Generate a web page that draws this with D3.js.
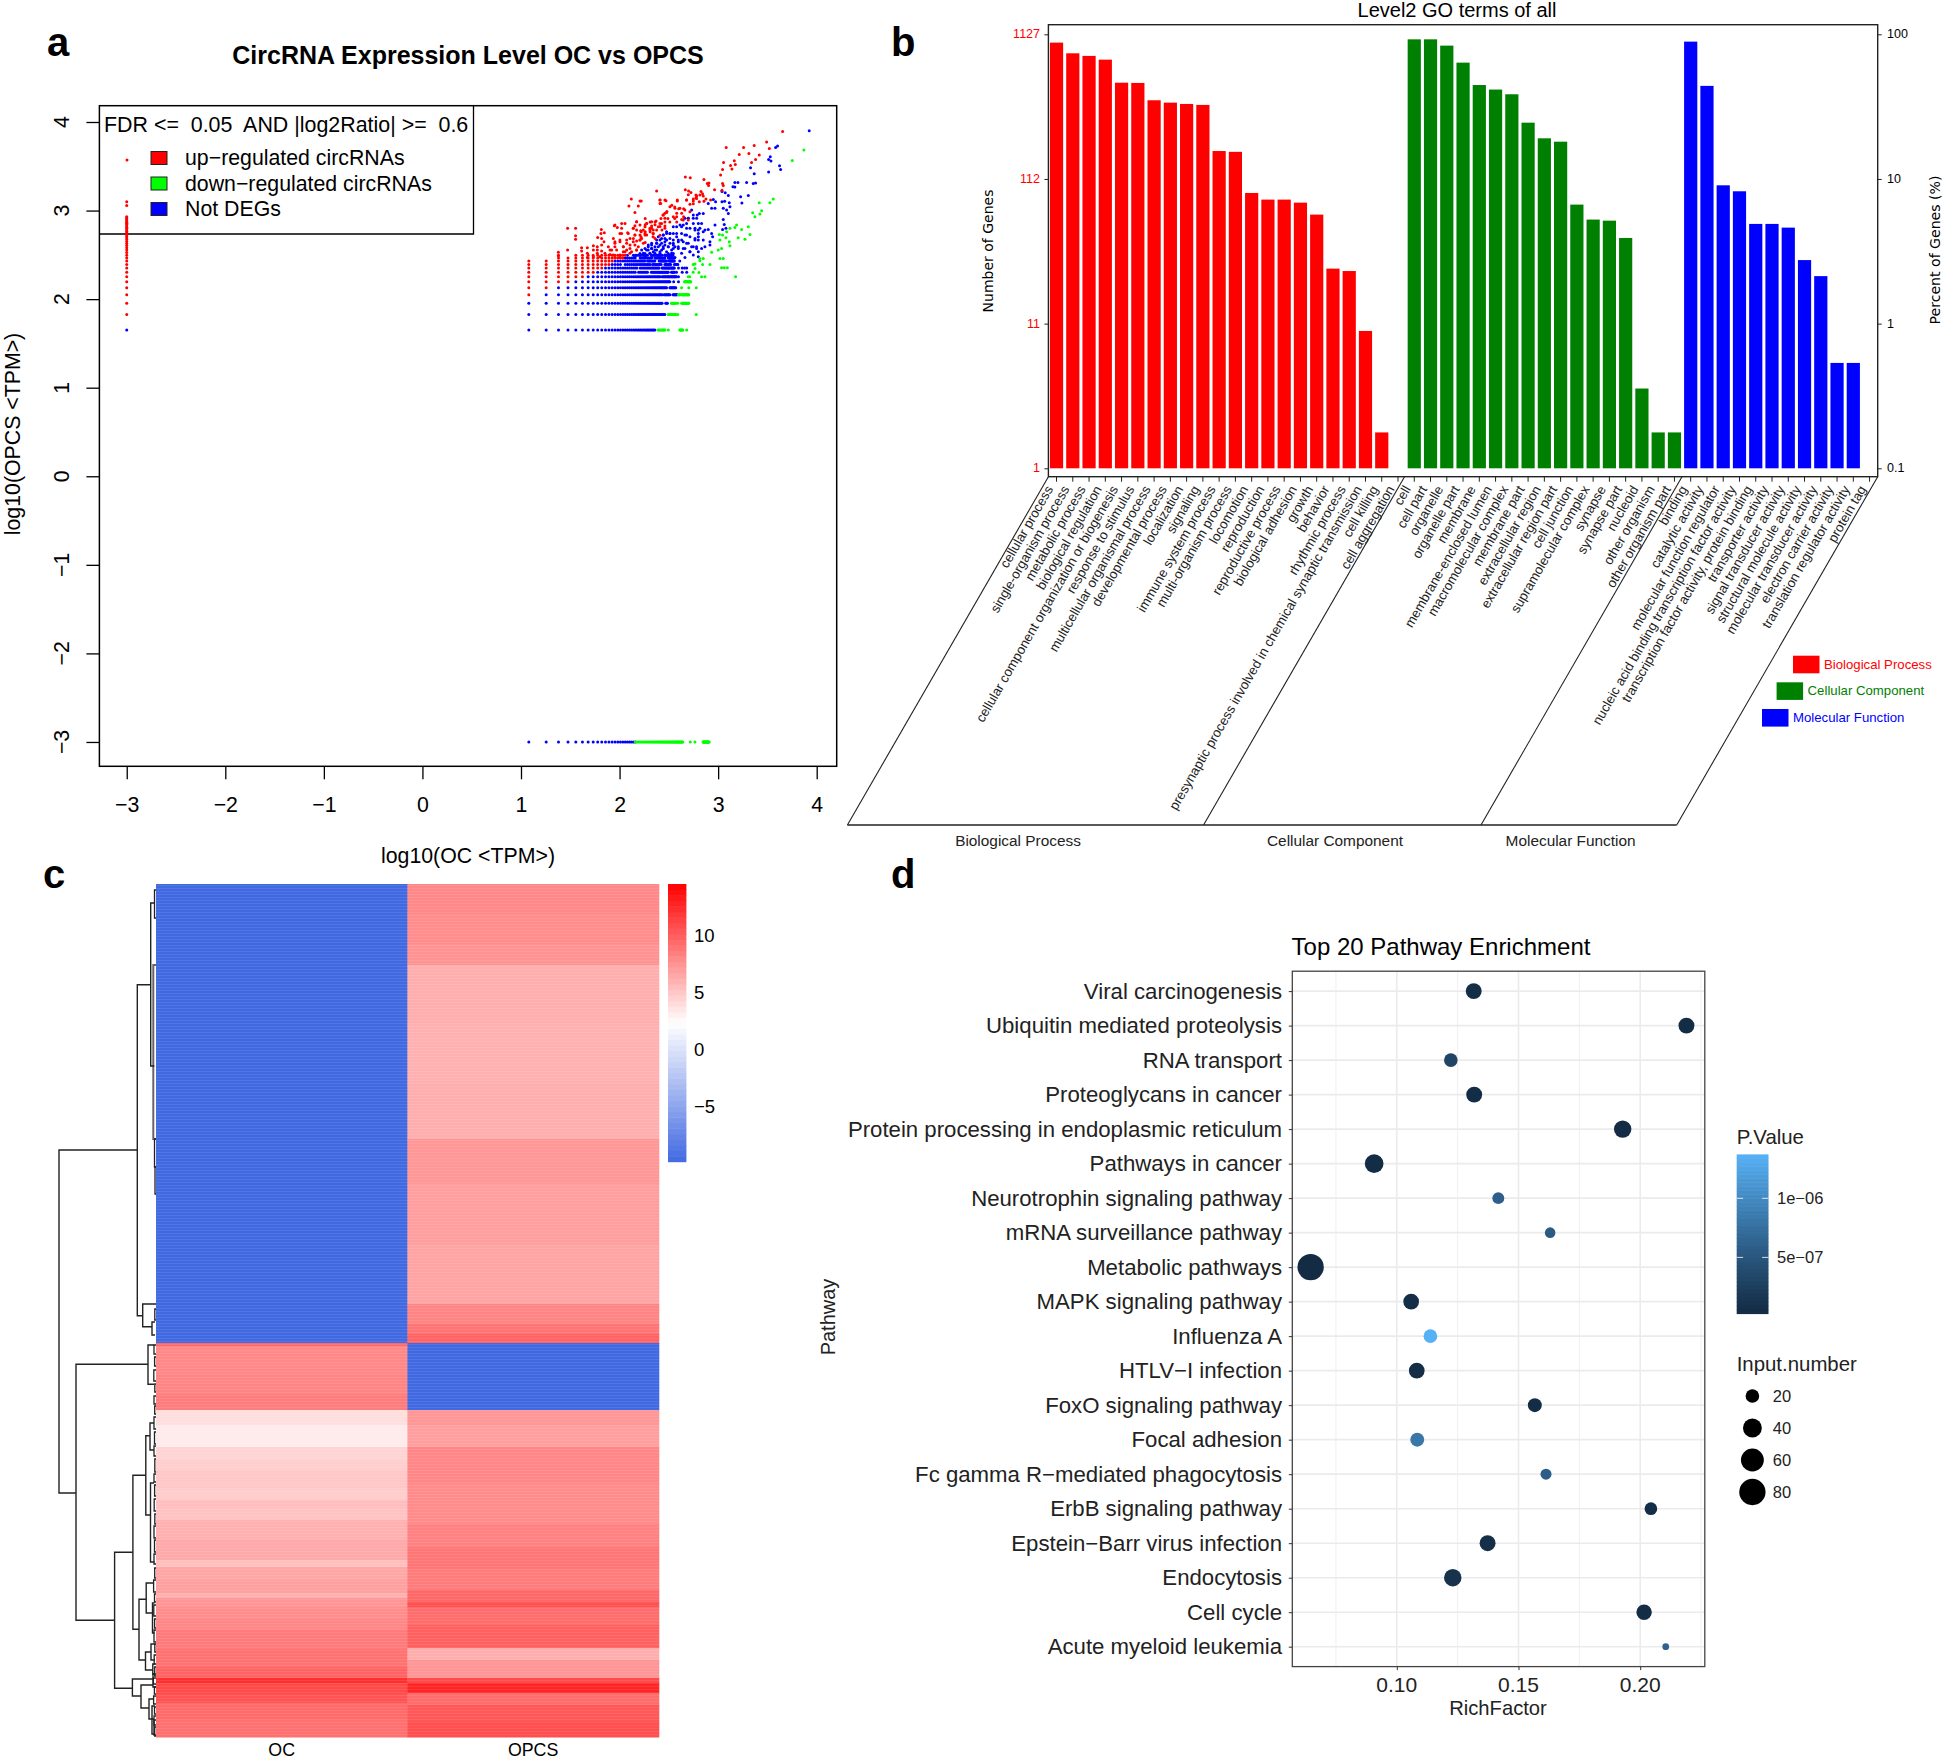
<!DOCTYPE html>
<html><head><meta charset="utf-8">
<script src="https://cdn.jsdelivr.net/npm/d3@7"></script>
<style>html,body{margin:0;padding:0;background:#fff}svg{display:block}text{font-family:"Liberation Sans",Arial,sans-serif;white-space:pre}</style>
</head><body><div id="chart"></div>
<script>
// ---------- panel a: scatter (read counts on the discrete TPM grid, runs are [from,to]) ----------
const ocTpmPerCount = 6, opcsTpmPerCount = 22.4;
const upRows = [
 [5,[[2,2]]],[6,[[2,3]]],[7,[[2,5]]],[8,[[2,7]]],[9,[[2,9]]],[10,[[2,11]]],[11,[[2,13]]],[12,[[2,14]]],
 [13,[[4,18]]],[14,[[4,4],[6,19]]]];
const notRows = [
 [2,[[2,38]]],[3,[[2,48]]],[4,[[2,45],[49,51]]],[5,[[3,45],[47,54],[58,64]]],[6,[[4,50],[54,62]]],
 [7,[[6,54],[59,59],[66,66]]],[8,[[8,43],[45,63],[66,66]]],[9,[[10,24],[26,32],[35,52],[56,60],[63,63],[72,72],[80,80]]],
 [10,[[12,25],[27,42],[45,60],[66,66],[72,72],[76,76],[80,80]]],[11,[[14,17],[19,34],[36,44],[48,55],[60,65]]],
 [12,[[15,30],[32,38],[42,50],[53,60],[68,68]]],[13,[[19,24],[27,35],[38,48],[52,60]]],[14,[[20,20],[23,32],[35,45],[48,58]]]];
const downRows = [
 [2,[[41,48],[52,52],[68,73],[80,80]]],[3,[[52,62],[65,65],[100,100]]],[4,[[56,62],[65,65],[71,84]]],
 [5,[[66,69],[71,84]]],[6,[[71,71],[84,84],[100,100]]],[7,[[76,88]]],[8,[[86,86]]],[9,[[93,93]]],[11,[[93,93]]]];
const upScatter = [[3.654,3.894],[3.492,3.773],[3.366,3.736],[3.519,3.702],[3.082,3.713],[3.258,3.713],[3.312,3.645],[3.214,3.634],[3.417,3.627],[3.38,3.578],[3.339,3.544],[3.164,3.563],[3.055,3.544],[3.126,3.51],[3.174,3.521],[3.045,3.465],[3.14,3.469],[3.025,3.401],[2.856,3.352],[2.667,3.378],[2.717,3.371],[2.89,3.307],[2.907,3.311],[2.903,3.284],[3.045,3.307],[3.052,3.284],[2.964,3.235],[3.039,3.228],[2.667,3.235],[2.7,3.22],[2.724,3.205],[2.775,3.175],[2.826,3.216],[2.842,3.19],[2.815,3.175],[2.849,3.164],[2.697,3.179],[2.775,3.141],[2.748,3.13],[2.748,3.107],[2.68,3.119],[2.876,3.13],[2.809,3.1],[2.856,3.104],[2.924,3.119],[2.714,3.07],[2.748,3.077],
 [2.46,2.97],[2.48,2.99],[2.44,2.95],[2.42,2.91],[2.53,3.06],[2.56,3.04],[2.6,3.02],[2.65,3.02],[2.58,2.97],[2.63,2.97],[2.545,2.93],[2.49,2.91],[2.56,2.91],[2.65,2.93],[2.63,2.9],[2.58,2.87],[2.51,2.87],[2.46,2.87],[2.41,2.855],[2.36,2.87],[2.31,2.87],[2.26,2.91],[2.275,2.855],[2.26,2.84],[2.36,2.84],[2.41,2.82],[2.46,2.825],[2.325,2.8],[2.376,2.78],[2.43,2.78],[2.26,2.76],[2.31,2.76],[2.34,2.74],[2.22,2.76],[2.275,2.725],[2.34,2.705],[2.217,2.705],[2.26,2.64],[2.36,2.686],[2.41,2.72],[2.46,2.8],[2.325,2.825],[2.207,2.667],[2.376,3.22],[2.207,3.107],[2.41,3.12],[2.41,3.08],[2.46,3.12],[2.585,3.107],
 [2.119,3.13],[2.22,3.107],[2.095,3.051],[2.19,3.051],[2.156,2.979],[1.473,2.799],[1.554,2.799],[1.815,2.787],[1.811,2.742],[1.845,2.75],[1.554,2.716],[1.554,2.675],[1.778,2.697],[1.818,2.686],[1.842,2.648],[1.947,2.829],[1.977,2.81],[2.021,2.855],[2.021,2.799],[2.173,2.874],[2.156,2.829],[2.004,2.742],[2.082,2.75],[2.14,2.799],[2.173,2.78],[2.214,2.772],[2.258,2.818],[2.275,2.855],[2.325,2.874],[2.37,2.882],[2.207,2.724],[2.156,2.724],[2.106,2.686],[2.14,2.686],[2.173,2.656],[2.224,2.686],[2.258,2.742],[2.308,2.78],[2.342,2.742],[2.393,2.818],[2.427,2.855],[2.46,2.912],[2.477,2.979],[2.444,2.949],[2.41,3.119],[2.417,3.081],[2.471,3.111],[2.586,3.119],[2.68,3.119],[2.782,3.137],[2.782,3.164],[2.511,3.043],[2.562,3.025],[2.613,3.025],[2.663,3.006],[2.714,2.987],[2.579,2.93],[2.646,2.893],[2.697,2.893],[1.937,2.686],[1.953,2.648],[2.004,2.648],[2.072,2.63],[2.106,2.611],[2.156,2.611],[2.19,2.592],[2.038,2.592],[1.953,2.592],[1.886,2.592],[1.903,2.554],[1.818,2.611],[1.774,2.592],[1.734,2.603],[1.673,2.581],[1.774,2.554],[1.615,2.581],[1.473,2.554],[1.379,2.528],[1.379,2.49],[1.734,2.554],[1.774,2.517],[1.673,2.517],[1.615,2.543],[1.818,2.543],[1.852,2.517],[1.903,2.505],[1.953,2.471],[2.004,2.471],[2.038,2.535],[2.072,2.554],[2.122,2.535],[2.173,2.554],[1.673,2.471],[1.734,2.479],[1.801,2.479],
 [1.953,2.836],[2.055,2.855],[2.173,2.874],[2.139,2.799],[2.207,2.836],[2.021,2.742],[2.088,2.742],[2.156,2.724],[2.241,2.78],[2.308,2.799],[2.258,2.724],[2.342,2.78],[2.004,2.667],[2.072,2.667],[2.139,2.648],[2.207,2.667],[1.953,2.63],[2.038,2.592],[2.105,2.573],[2.173,2.554],[2.241,2.63],[1.97,2.554],[2.055,2.535],[1.92,2.554],[2.004,2.498],[2.105,2.517],[1.936,2.498]];
const notScatter = [[3.924,3.901],[3.603,3.728],[3.583,3.713],[3.529,3.608],[3.512,3.578],[3.536,3.559],[3.623,3.506],[3.634,3.465],[3.329,3.484],[3.512,3.435],[3.366,3.416],[3.17,3.318],[3.201,3.318],[3.289,3.318],[3.356,3.307],[3.38,3.311],[3.15,3.269],[3.17,3.265],[3.039,3.216],[3.072,3.201],[3.103,3.171],[3.228,3.156],[3.306,3.171],[2.951,3.126],[2.9,3.081],[2.974,3.1],[3.039,3.1],[3.066,3.104],[3.113,3.089],[3.241,3.085],
 [2.697,2.912],[2.748,2.949],[2.782,2.912],[2.748,2.855],[2.799,2.855],[2.832,2.855],[2.849,2.968],[2.934,3.025],[2.968,3.025],[3.052,3.025],[3.086,3.006],[3.12,3.043],[3.103,2.968],[2.968,2.836],[3.052,2.9],[3.062,2.844],[3.045,2.787],[3.079,2.799],[2.815,2.799],[2.849,2.761],[2.765,2.78],[2.799,2.742],[2.866,2.78],[2.9,2.787],[2.934,2.742],[2.944,2.705],[2.917,2.648],[2.849,2.667],[2.799,2.705],[2.832,2.573],[2.799,2.535],[2.748,2.592],[2.714,2.535],[2.765,2.667],[2.68,2.855],[2.646,2.836],[2.613,2.836],[2.663,2.724],[2.63,2.667],[2.68,2.63],[2.646,2.573],[2.596,2.592],[2.545,2.742],[2.511,2.742],[2.477,2.742],[2.579,2.705],[2.545,2.667],[2.511,2.63],[2.562,2.592],[2.528,2.554],[2.545,2.516],[2.444,2.724],[2.46,2.686],[2.41,2.667],[2.376,2.667],[2.427,2.63],[2.393,2.592],[2.444,2.573],[2.359,2.592],[2.325,2.573],[2.291,2.592],[2.258,2.573],[2.41,2.535],[2.342,2.535],[2.308,2.516],[2.258,2.516],[2.224,2.554],[2.207,2.516],[2.494,2.516],[2.596,2.648],[2.782,2.573],[2.866,2.592],[2.917,2.61],[2.477,2.667],[2.376,2.63],[2.325,2.61],[2.359,2.554],[2.291,2.554],[2.46,2.61],[2.494,2.592],[2.545,2.61],
 [2.731,3.006],[2.697,2.912],[2.663,2.912],[2.748,2.912],[2.788,2.949],[2.809,2.968],[2.629,2.817],[2.579,2.817],[2.545,2.817],[2.68,2.799],[2.714,2.799],[2.765,2.799],[2.799,2.78],[2.477,2.761],[2.511,2.742],[2.443,2.724],[2.579,2.742],[2.629,2.742],[2.68,2.724],[2.714,2.705],[2.765,2.686],[2.799,2.667],[2.393,2.705],[2.427,2.686],[2.46,2.648],[2.511,2.686],[2.545,2.63],[2.596,2.667],[2.646,2.648],[2.697,2.63],[2.663,2.573],[2.731,2.592],[2.781,2.592],[2.325,2.63],[2.291,2.611],[2.376,2.63],[2.41,2.611],[2.443,2.592],[2.494,2.592],[2.545,2.573],[2.596,2.573],[2.274,2.554],[2.325,2.573],[2.376,2.554],[2.427,2.554],[2.477,2.535],[2.528,2.517],[2.629,2.517],[2.714,2.535],[2.241,2.517],[2.308,2.517],[2.359,2.517],[2.41,2.517],[2.46,2.498],[2.511,2.479],[2.207,2.498],[2.156,2.479],[2.258,2.479],[2.325,2.471],[2.393,2.471],[2.562,2.471],[2.663,2.471],[2.748,2.498],[2.799,2.479]];
const downScatter = [[3.87,3.683],[3.752,3.566],[3.559,3.13],[3.417,3.089],[3.525,3.089],[2.697,2.253],[2.832,2.253],[2.866,2.253],[3.177,2.253],[2.805,2.302],[2.765,2.347],[3.035,2.355],[3.062,2.355],[3.093,2.355],[2.917,2.392],[2.842,2.392],[2.765,2.396],[2.815,2.434],[2.849,2.46],[2.815,2.46],[3.018,2.46],[3.052,2.46],[2.934,2.528],[3.001,2.554],[3.035,2.573],[3.12,2.603],[3.018,2.667],[3.113,2.648],[3.079,2.694],[3.012,2.731],[3.045,2.724],[3.086,2.76],[3.12,2.799],[3.187,2.836],[3.17,2.81],[3.238,2.787],[3.306,2.818],[3.323,2.731],[3.204,2.694],[3.272,2.675],[3.373,2.93],[3.35,2.975],[3.424,2.96],[3.441,2.998]];
const onlyOpcsUpCounts = [[3,38],[51,51],[56,56]], onlyOpcsNotCounts = [[2,2]];
const onlyOcNotCounts = [[2,24]], onlyOcDownCounts = [[24,73],[87,87],[97,97],[117,135]];
const zeroLog = -3;
const aTicksX = [-3,-2,-1,0,1,2,3,4], aTicksY = [-3,-2,-1,0,1,2,3,4];
const aLegend = ["up\u2212regulated circRNAs","down\u2212regulated circRNAs","Not DEGs"];
const aLegendColors = ["#ff0000","#00ff00","#0000ff"];

// ---------- panel b: GO bars (percent of genes) ----------
const bpNames = ["cellular process","single-organism process","metabolic process","biological regulation","cellular component organization or biogenesis","response to stimulus","multicellular organismal process","developmental process","localization","signaling","immune system process","multi-organism process","locomotion","reproduction","reproductive process","biological adhesion","growth","behavior","rhythmic process","presynaptic process involved in chemical synaptic transmission","cell killing","cell aggregation"];
const bpValues = [87.6,73.9,70.9,66.8,46.3,46.1,35.0,33.7,33.0,32.5,15.6,15.4,8.0,7.2,7.2,6.86,5.67,2.40,2.31,0.89,0.177,0.1];
const ccNames = ["cell","cell part","organelle","organelle part","membrane","membrane-enclosed lumen","macromolecular complex","membrane part","extracellular region","extracellular region part","cell junction","supramolecular complex","synapse","synapse part","nucleoid","other organism","other organism part"];
const ccValues = [92.3,92.3,83.5,63.7,44.6,41.5,38.5,24.5,19.1,18.1,6.65,5.24,5.15,3.91,0.356,0.177,0.177];
const mfNames = ["binding","catalytic activity","molecular function regulator","nucleic acid binding transcription factor activity","transcription factor activity, protein binding","transporter activity","signal transducer activity","structural molecule activity","molecular transducer activity","electron carrier activity","translation regulator activity","protein tag"];
const mfValues = [89.0,44.0,9.04,8.22,4.89,4.89,4.61,2.75,2.13,0.535,0.535,0.1];
const bPercentTicks = [100,10,1,0.1];
const bCountLabels = ["1127","112","11","1"];
const bPercentLabels = ["100","10","1","0.1"];
const bGroups = ["Biological Process","Cellular Component","Molecular Function"];
const bColors = ["#ff0000","#008000","#0000ff"];

// ---------- panel c: heatmap bands [first row, value] ----------
const heatOC = [[0,-9.9],[459,9.6],[462,8.0],[490,8.2],[510,8.6],[526,3.9],[541,3.3],[563,4.4],[576,4.7],[586,5],[604,4.8],[616,5.5],[624,5.2],[636,6.1],[656,6.4],[676,5.4],[683,6.6],[696,6.9],[709,6.1],[714,7.4],[723,7.8],[735,8.1],[746,8.7],[765,9.1],[783,9.8],[794,12.3],[799,11],[810,10.6],[819,9.5],[835,9.2],[853,9.2]];
const heatOPCS = [[0,8.0],[30,7.8],[60,7.5],[81,6.2],[140,6.1],[200,6.2],[255,7.3],[300,7.0],[360,6.7],[420,8.2],[440,9.0],[450,9.8],[459,-9.9],[526,7.3],[541,7.0],[563,8.1],[600,7.9],[640,8.4],[663,8.9],[685,8.6],[706,9.6],[718,10.8],[723,9.4],[741,9.9],[764,6.2],[776,7.4],[794,11],[799,12.8],[809,9.4],[821,10.4],[838,10.8],[853,10.8]];
const heatColumns = ["OC","OPCS"];
const heatTicks = [10,5,0,-5];
const heatDomain = [-9.9,2.33,14.57];
// dendrogram brackets: [height, top row, bottom row, height of top child, height of bottom child]
const dendroBrackets = [[97,266,609,18.7,80],[18.7,100.7,431.7,5.3,13.3],[5.3,19,182,1.7,1.7],[13.3,420,442.7,0,4],[4,438,451,1,1],
 [80,480.3,736.3,8,41.4],[8,461,500.3,2,2],[41.4,668.3,804.3,23.1,23.6],[23.1,591.3,745.3,10.2,17],[10.2,551.7,631,6,5.5],[6,539,566,2,2],[5.5,599,678,2,1.5],
 [17,715.3,776,9.8,10.5],[9.8,699,729,2,3.5],[3.5,719,749,1.5,1.5],[10.5,768,786,5,3.2],[5,760,776,1,1],[3.2,780,790,1,1],[23.6,795,812,3,15],[15,801,824,3,7],[7,815,835,2,2],[4,822,850,1,1],[2,836,851,0,0],[3,790,803,0,0]];
const dendroDark = [[1.5,6,34,0,0],[1.5,255,283,0,0],[1,283,310,0,0],[1.2,425,436,0,0],
 [2,461,470,0,0],[1.4,473,482,0,0],[2.2,486,497,0,0],[1.2,500,508,0,0],[2,512,520,0,0],[1.3,522,530,0,0],[2,533,545,0,0],[1.5,548,560,0,0],[2,562,572,0,0],[1.2,575,588,0,0],[2,590,598,0,0],[1.4,601,612,0,0],[1.8,615,627,0,0],[1.2,630,640,0,0],[2,642,654,0,0],[1.5,656,668,0,0],[2,670,680,0,0],[1.3,684,694,0,0],[2.4,696,708,0,0],[1.5,710,718,0,0],[2.2,721,732,0,0],[1.4,735,744,0,0],[2,746,758,0,0],[1.2,760,768,0,0],[1.8,771,780,0,0],[1.3,783,792,0,0],[2.6,794,800,0,0],[1.6,803,810,0,0],[2.4,812,820,0,0],[1.5,823,830,0,0],[2,832,841,0,0],[1.3,843,852,0,0]];
const dendroGray = [[2.7,81,255,0,0]];
const heatRowCount = 853;

// ---------- panel d: pathway enrichment ----------
const pathways = ["Viral carcinogenesis","Ubiquitin mediated proteolysis","RNA transport","Proteoglycans in cancer","Protein processing in endoplasmic reticulum","Pathways in cancer","Neurotrophin signaling pathway","mRNA surveillance pathway","Metabolic pathways","MAPK signaling pathway","Influenza A","HTLV\u2212I infection","FoxO signaling pathway","Focal adhesion","Fc gamma R\u2212mediated phagocytosis","ErbB signaling pathway","Epstein\u2212Barr virus infection","Endocytosis","Cell cycle","Acute myeloid leukemia"];
const richFactor = [0.1316,0.219,0.1222,0.1318,0.1928,0.0907,0.1417,0.163,0.0646,0.1059,0.1138,0.1082,0.1567,0.1084,0.1613,0.2044,0.1373,0.123,0.2016,0.2105];
const inputNumber = [28,28,20,28,34,39,15,11.6,80,27,20,27,21,21,12.7,17,28,34,26,4.3];
const pValue = [6e-8,5e-8,3e-7,5e-8,4e-8,5e-8,5.9e-7,5.4e-7,2.5e-8,6e-8,1.37e-6,6e-8,5e-8,8.2e-7,5.6e-7,6e-8,7e-8,1e-7,5e-8,6.3e-7];
const dMajor = [0.10,0.15,0.20], dMinor = [0.075,0.125,0.175,0.225];
const pTicks = [1e-6,5e-7], pTickLabels = ["1e\u221206","5e\u221207"];
const sizeKeys = [20,40,60,80];

// ---------- drawing ----------
const W = 1946, H = 1759;
const svg = d3.select("#chart").append("svg").attr("width",W).attr("height",H).attr("viewBox",[0,0,W,H]);
const txt = (g,x,y,s,size,opt={}) => {
  const t = g.append("text").attr("x",x).attr("y",y).attr("font-size",size).attr("fill",opt.fill||"#000")
    .attr("text-anchor",opt.anchor||"start").attr("dominant-baseline",opt.base||"central").text(s);
  if (opt.bold) t.attr("font-weight","bold");
  if (opt.family) t.style("font-family",opt.family);
  if (opt.rot!=null) t.attr("transform",`rotate(${opt.rot} ${x} ${y})`);
  return t;
};
[["a",47,56],["b",891,56],["c",43,888],["d",891,888]].forEach(([s,x,y])=>txt(svg,x,y,s,40,{bold:true,base:"auto"}));

// ---- a ----
(function(){
  const g = svg.append("g");
  const x = d3.scaleLinear().domain([1,4]).range([521,816.7]);
  const y = d3.scaleLinear().domain([1,4]).range([387.7,122]);
  const L=99.4,R=836.7,T=105.7,B=766.3;
  txt(g,468,54.6,"CircRNA Expression Level OC vs OPCS",25,{bold:true,anchor:"middle"});
  g.append("rect").attr("x",L).attr("y",T).attr("width",R-L).attr("height",B-T).attr("fill","none").attr("stroke","#000").attr("stroke-width",1.5);
  const gx = g.append("g").attr("transform",`translate(0,${B})`).call(d3.axisBottom(x).tickValues(aTicksX).tickSize(13).tickPadding(18).tickFormat(d=>String(d).replace("-","\u2212")));
  gx.select(".domain").remove();
  gx.selectAll("text").style("font-size","21.3px").attr("fill","#000");
  gx.selectAll("line").attr("stroke","#000").attr("stroke-width",1.3);
  const gy = g.append("g").attr("transform",`translate(${L},0)`).call(d3.axisLeft(y).tickValues(aTicksY).tickSize(13).tickFormat(""));
  gy.select(".domain").remove();
  gy.selectAll("line").attr("stroke","#000").attr("stroke-width",1.3);
  aTicksY.forEach(v=>txt(g,62,y(v),String(v).replace("-","\u2212"),21.3,{anchor:"middle",rot:-90}));
  txt(g,468,856,"log10(OC <TPM>)",21.3,{anchor:"middle"});
  txt(g,12.5,434,"log10(OPCS <TPM>)",21.3,{anchor:"middle",rot:-90});
  // legend
  const lr=473.5,lb=234;
  g.append("path").attr("d",`M${L},${lb}H${lr}V${T}`).attr("fill","none").attr("stroke","#000").attr("stroke-width",1.3);
  txt(g,104,125,"FDR <=  0.05  AND |log2Ratio| >=  0.6",21.4);
  const ly = d3.scalePoint().domain(aLegend).range([158,209]);
  aLegend.forEach((s,i)=>{
    g.append("rect").attr("x",151).attr("y",ly(s)-6.5).attr("width",16).attr("height",13).attr("fill",aLegendColors[i]).attr("stroke","#222").attr("stroke-width",1);
    txt(g,185,ly(s),s,21.3);
  });
  g.append("circle").attr("cx",127).attr("cy",160).attr("r",1.5).attr("fill","#ff0000");
  // points
  const ex = runs => runs.flatMap(([a,b])=>d3.range(a,b+1));
  const lx = n=>Math.log10(n*ocTpmPerCount), lyv = n=>Math.log10(n*opcsTpmPerCount);
  const rowsToPts = rows => rows.flatMap(([ny,runs])=>ex(runs).map(nx=>[lx(nx),lyv(ny)]));
  const layers = [
    [rowsToPts(notRows).concat(notScatter, ex(onlyOcNotCounts).map(n=>[lx(n),zeroLog]), ex(onlyOpcsNotCounts).map(n=>[zeroLog,lyv(n)])),"#0000ff"],
    [rowsToPts(upRows).concat(upScatter, ex(onlyOpcsUpCounts).map(n=>[zeroLog,lyv(n)])),"#ff0000"],
    [rowsToPts(downRows).concat(downScatter, ex(onlyOcDownCounts).map(n=>[lx(n),zeroLog])),"#00ff00"]];
  layers.forEach(([pts,c])=>g.append("g").attr("fill",c).selectAll("circle").data(pts).join("circle")
    .attr("cx",d=>x(d[0])).attr("cy",d=>y(d[1])).attr("r",1.5));
})();

// ---- b ----
(function(){
  const g = svg.append("g");
  const names = bpNames.concat(ccNames,mfNames);
  const vals = bpValues.concat(ccValues,mfValues);
  const cols = names.map((_,i)=> i<bpNames.length?bColors[0]: i<bpNames.length+ccNames.length?bColors[1]:bColors[2]);
  const L=1048.4,R=1877.7,T=24.7,B=476.7;
  const x = d3.scaleBand().domain(names).range([L,R]).paddingInner(0.188).paddingOuter(0.094);
  const y = d3.scaleLog().domain([0.1,100]).range([468.3,34.3]);
  txt(g,1457,9.5,"Level2 GO terms of all",20,{anchor:"middle"});
  g.selectAll("rect.b").data(names).join("rect").attr("class","b")
    .attr("x",d=>x(d)).attr("width",x.bandwidth())
    .attr("y",(d,i)=>y(vals[i])).attr("height",(d,i)=>y(0.1)-y(vals[i])).attr("fill",(d,i)=>cols[i]);
  g.append("rect").attr("x",L).attr("y",T).attr("width",R-L).attr("height",B-T).attr("fill","none").attr("stroke","#222").attr("stroke-width",1.4);
  const yl = g.append("g").attr("transform",`translate(${L},0)`).call(d3.axisLeft(y).tickValues(bPercentTicks).tickSize(4).tickFormat(""));
  yl.select(".domain").remove(); yl.selectAll("line").attr("stroke","#222");
  bPercentTicks.forEach((v,i)=>txt(g,1040,y(v),bCountLabels[i],12.5,{anchor:"end",fill:"#ff0000"}));
  const yr = g.append("g").attr("transform",`translate(${R},0)`).call(d3.axisRight(y).tickValues(bPercentTicks).tickSize(4).tickFormat(""));
  yr.select(".domain").remove(); yr.selectAll("line").attr("stroke","#222");
  bPercentTicks.forEach((v,i)=>txt(g,1887,y(v),bPercentLabels[i],12.5));
  txt(g,988,251,"Number of Genes",14,{anchor:"middle",rot:-90,family:"'DejaVu Sans'"});
  txt(g,1935,250,"Percent of Genes (%)",14.1,{anchor:"middle",rot:-90,family:"'DejaVu Sans'"});
  const gx = g.append("g").attr("transform",`translate(0,${B})`).call(d3.axisBottom(x).tickSize(5).tickFormat(""));
  gx.select(".domain").remove(); gx.selectAll("line").attr("stroke","#222");
  names.forEach(n=>{
    const cx=x(n)+x.bandwidth()/2-3, cy=489;
    txt(g,cx,cy,n,13.3,{anchor:"end",rot:-60,fill:"#222",base:"auto"});
  });
  // slanted group frames
  const bottom = 825, shift = 201;
  const edges = [L, x(ccNames[0])-3.1, x(mfNames[0])-3.1+1, R];
  edges.forEach(e=>g.append("line").attr("x1",e).attr("y1",B).attr("x2",e-shift).attr("y2",bottom).attr("stroke","#222").attr("stroke-width",1.1));
  g.append("line").attr("x1",L-shift).attr("x2",R-shift).attr("y1",bottom).attr("y2",bottom).attr("stroke","#222").attr("stroke-width",1.4);
  bGroups.forEach((s,i)=>txt(g,[1018,1335,1570.6][i],840,s,15.4,{anchor:"middle",fill:"#222"}));
  const lgx=[1793,1776.6,1762], lgy=[655.7,682.3,709];
  bGroups.forEach((s,i)=>{
    g.append("rect").attr("x",lgx[i]).attr("y",lgy[i]).attr("width",26.5).attr("height",17.6).attr("fill",bColors[i]);
    txt(g,lgx[i]+31,lgy[i]+8.5,s,13.2,{fill:bColors[i]});
  });
})();

// ---- c ----
(function(){
  const g = svg.append("g");
  const X = d3.scaleBand().domain(heatColumns).range([156,658.8]);
  const Y = d3.scaleLinear().domain([0,heatRowCount]).range([884,1737]);
  const col = d3.scaleLinear().domain(heatDomain).range(["#4169e1","#ffffff","#ff0000"]);
  [heatOC,heatOPCS].forEach((bands,c)=>{
    g.append("g").selectAll("rect").data(bands.slice(0,-1)).join("rect")
      .attr("x",X(heatColumns[c])).attr("width",X.bandwidth()+0.5)
      .attr("y",d=>Y(d[0])).attr("height",(d,i)=>Y(bands[i+1][0])-Y(d[0])+0.5).attr("fill",d=>col(d[1]));
  });
  g.append("g").attr("stroke","#fff").attr("stroke-opacity",0.09).selectAll("line").data(d3.range(1,heatRowCount,3)).join("line")
    .attr("x1",156).attr("x2",658.8).attr("y1",d=>Y(d)+.5).attr("y2",d=>Y(d)+.5);
  heatColumns.forEach((s,i)=>txt(g,X(s)+X.bandwidth()/2,1750,s,17.8,{anchor:"middle"}));
  // colour bar
  const cb = d3.scaleLinear().domain([heatDomain[2],heatDomain[0]]).range([884,1161.7]);
  const steps = d3.range(50);
  const step = (heatDomain[2]-heatDomain[0])/50;
  g.append("g").selectAll("rect").data(steps).join("rect").attr("x",668).attr("width",18.4)
    .attr("y",i=>cb(heatDomain[0]+(i+1)*step)).attr("height",Math.abs(cb(0)-cb(step))+.5)
    .attr("fill",i=>col(heatDomain[0]+(i+.5)*step));
  heatTicks.forEach(v=>txt(g,694,cb(v),String(v).replace("-","\u2212"),18.5));
  // dendrogram
  const hx = d3.scaleLinear().domain([0,97]).range([156,59]);
  const drawB = (list,stroke,w)=>g.append("g").attr("fill","none").attr("stroke",stroke).attr("stroke-width",w)
    .selectAll("path").data(list).join("path")
    .attr("d",([h,a,b,h1,h2])=>`M${hx(h1)},${Y(a)}H${hx(h)}V${Y(b)}H${hx(h2)}`);
  drawB(dendroGray,"#666",2);
  drawB(dendroDark,"#222",1.3);
  drawB(dendroBrackets,"#222",1.4);
})();

// ---- d ----
(function(){
  const g = svg.append("g");
  const L=1292.3,R=1704.8,T=971.2,B=1666.6;
  const x = d3.scaleLinear().domain([0.10,0.20]).range([1396.8,1640.2]);
  const y = d3.scalePoint().domain(pathways).range([991.1,1646.7]);
  const size = d3.scalePow().exponent(0.5).domain([4,80]).range([6.6,26.3]);
  const col = d3.scaleLinear().domain([2.5e-8,1.37e-6]).range(["#132B43","#56B1F7"]).interpolate(d3.interpolateLab);
  txt(g,1441,946,"Top 20 Pathway Enrichment",24,{anchor:"middle"});
  const grid = g.append("g").attr("stroke","#ebebeb");
  dMinor.forEach(v=>grid.append("line").attr("x1",x(v)).attr("x2",x(v)).attr("y1",T).attr("y2",B).attr("stroke-width",.8));
  dMajor.forEach(v=>grid.append("line").attr("x1",x(v)).attr("x2",x(v)).attr("y1",T).attr("y2",B).attr("stroke-width",1.6));
  pathways.forEach(p=>grid.append("line").attr("x1",L).attr("x2",R).attr("y1",y(p)).attr("y2",y(p)).attr("stroke-width",1.6));
  g.append("g").selectAll("circle").data(pathways).join("circle")
    .attr("cx",(d,i)=>x(richFactor[i])).attr("cy",d=>y(d)).attr("r",(d,i)=>size(inputNumber[i])/2).attr("fill",(d,i)=>col(pValue[i]));
  g.append("rect").attr("x",L).attr("y",T).attr("width",R-L).attr("height",B-T).attr("fill","none").attr("stroke","#444").attr("stroke-width",1.3);
  const ay = g.append("g").attr("transform",`translate(${L},0)`).call(d3.axisLeft(y).tickSize(3.5).tickFormat(""));
  ay.select(".domain").remove(); ay.selectAll("line").attr("stroke","#333");
  pathways.forEach(p=>txt(g,1282,y(p),p,22.2,{anchor:"end",fill:"#222"}));
  const ax = g.append("g").attr("transform",`translate(0,${B})`).call(d3.axisBottom(x).tickValues(dMajor).tickSize(3.5).tickFormat(""));
  ax.select(".domain").remove(); ax.selectAll("line").attr("stroke","#333");
  dMajor.forEach(v=>txt(g,x(v),1684.5,d3.format(".2f")(v),21,{anchor:"middle",fill:"#222"}));
  txt(g,1498,1708,"RichFactor",20.2,{anchor:"middle",fill:"#222"});
  txt(g,828,1317,"Pathway",20,{anchor:"middle",rot:-90,fill:"#222"});
  // colour legend
  const cy = d3.scaleLinear().domain([1e-6,5e-7]).range([1198.3,1257.4]);
  const cbT=1154.4,cbB=1313.6,cbL=1736.7,cbR=1768.5;
  txt(g,cbL,1137,"P.Value",20.4,{fill:"#222"});
  const nb=40,bins=d3.range(nb);
  g.append("g").selectAll("rect").data(bins).join("rect").attr("x",cbL).attr("width",cbR-cbL)
    .attr("y",i=>cbT+(cbB-cbT)*i/nb).attr("height",(cbB-cbT)/nb+.5)
    .attr("fill",i=>col(cy.invert(cbT+(cbB-cbT)*(i+.5)/nb)));
  pTicks.forEach((v,i)=>{
    g.append("line").attr("x1",cbL).attr("x2",cbL+6.4).attr("y1",cy(v)).attr("y2",cy(v)).attr("stroke","#fff").attr("stroke-opacity",.8);
    g.append("line").attr("x1",cbR-6.4).attr("x2",cbR).attr("y1",cy(v)).attr("y2",cy(v)).attr("stroke","#fff").attr("stroke-opacity",.8);
    txt(g,1777,cy(v),pTickLabels[i],16.5,{fill:"#222"});
  });
  txt(g,cbL,1364,"Input.number",20.4,{fill:"#222"});
  const ky = d3.scalePoint().domain(sizeKeys).range([1396,1492]);
  sizeKeys.forEach(k=>{
    g.append("circle").attr("cx",1752.4).attr("cy",ky(k)).attr("r",size(k)/2).attr("fill","#000");
    txt(g,1772.8,ky(k),String(k),16.5,{fill:"#222"});
  });
})();
</script></body></html>
